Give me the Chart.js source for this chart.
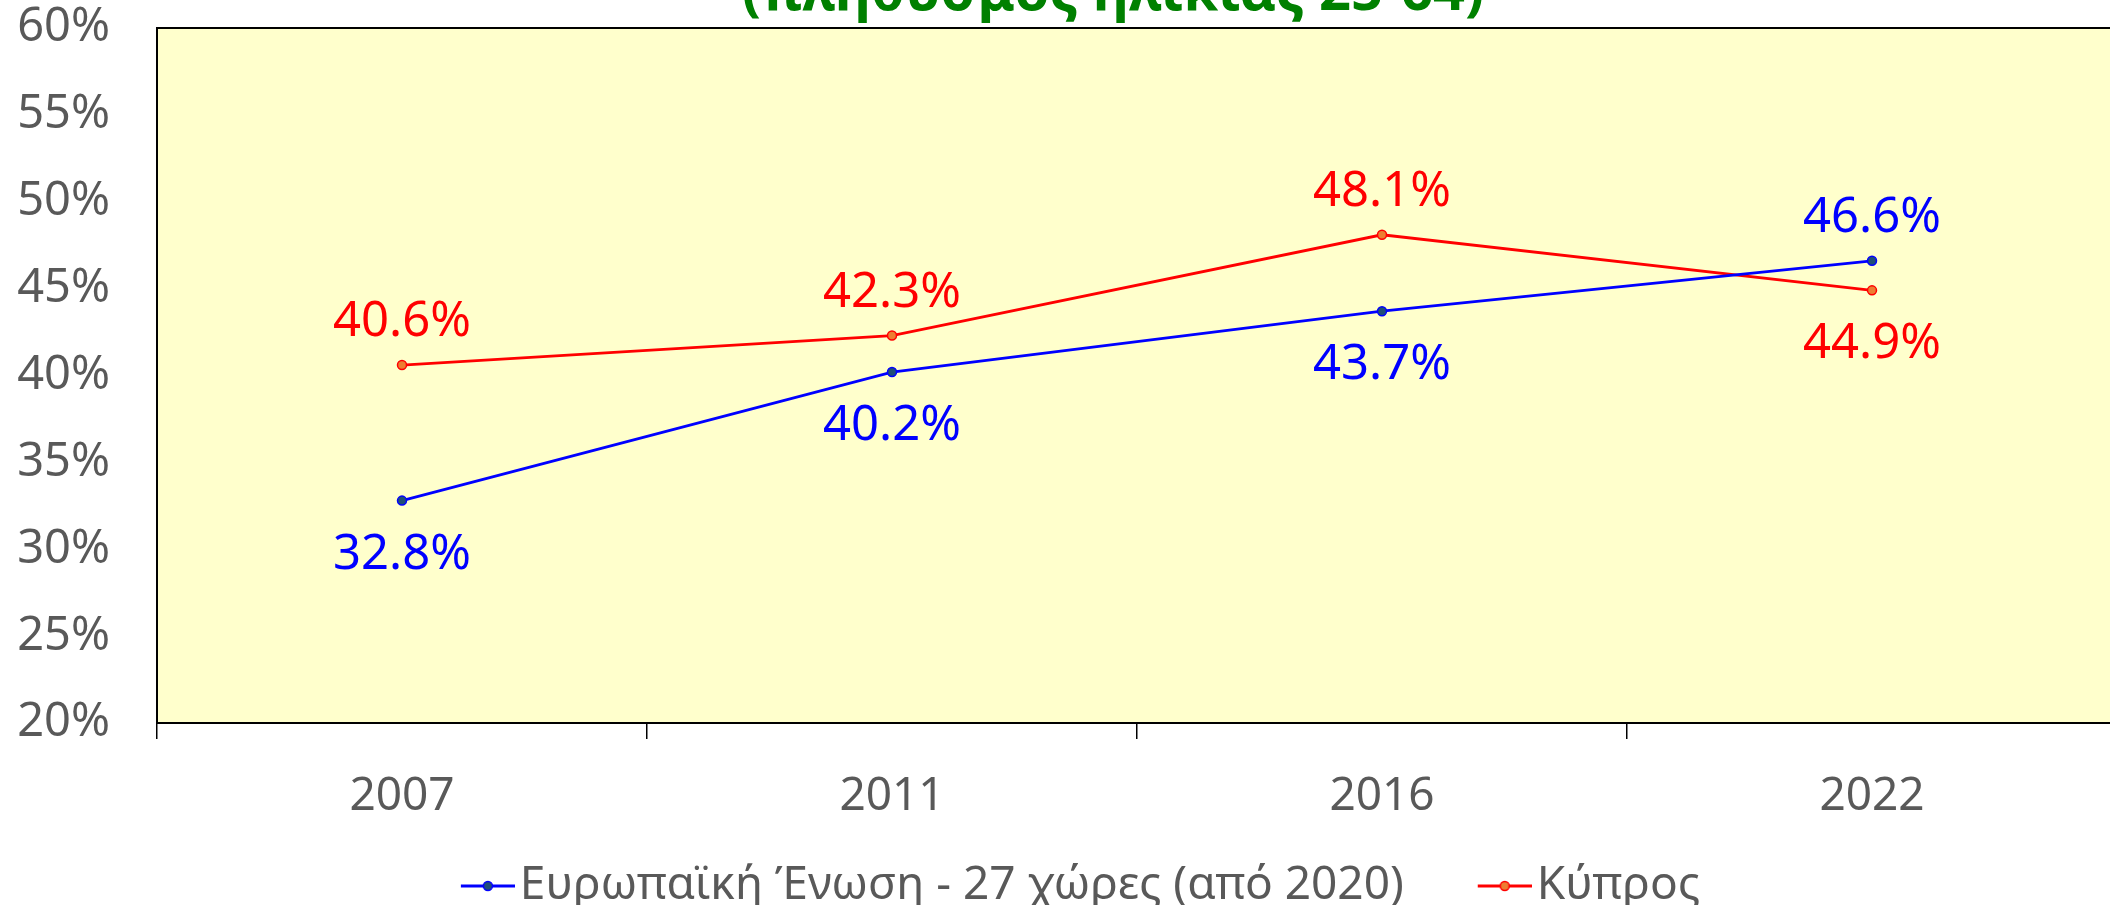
<!DOCTYPE html>
<html lang="el">
<head>
<meta charset="UTF-8">
<title>Συμμετοχή ενηλίκων στην εκπαίδευση</title>
<script src="https://cdn.jsdelivr.net/npm/chart.js@4.4.1/dist/chart.umd.min.js"></script>
<style>
  html, body { margin: 0; padding: 0; background: #fff; overflow: hidden; }
  .chart-wrap { position: absolute; left: 0; top: 0; width: 2140px; height: 919px; }
</style>
</head>
<body>
<div class="chart-wrap"><canvas id="trendChart"></canvas></div>
<script>
  // data
  const years = ["2007", "2011", "2016", "2022"];
  const euValues = [32.8, 40.2, 43.7, 46.6];
  const cyValues = [40.6, 42.3, 48.1, 44.9];
  const seriesNames = ["Ευρωπαϊκή Ένωση - 27 χώρες (από 2020)", "Κύπρος"];
  const yMin = 20, yMax = 60, yStep = 5;
  const titleText = "(πληθυσμός ηλικίας 25-64)";
  // which side of the point each value label goes
  const euLabelSide = ["below", "below", "below", "above"];
  const cyLabelSide = ["above", "above", "above", "below"];

  const FONT = "'Noto Sans', sans-serif";
  const GREY = "#595959";
  const BOX_W = 80; // legend box; icon sits at its right end

  function legendIcon(line, fill) {
    const c = document.createElement("canvas");
    c.width = BOX_W + 36; c.height = 14;
    const g = c.getContext("2d");
    const x0 = c.width - 54;
    g.strokeStyle = line;
    g.lineWidth = 3;
    g.beginPath(); g.moveTo(x0, 7); g.lineTo(c.width, 7); g.stroke();
    g.beginPath(); g.arc(x0 + 27, 7, 4.5, 0, Math.PI * 2);
    g.fillStyle = fill; g.fill();
    g.lineWidth = 1.5; g.stroke();
    return c;
  }
  const icons = [legendIcon("#0000FF", "#1F4E79"), legendIcon("#FF0000", "#ED7D31")];

  // yellow plot area + black frame
  const plotFrame = {
    id: "plotFrame",
    beforeDraw(chart) {
      const { ctx, chartArea: a } = chart;
      ctx.save();
      ctx.fillStyle = "#FFFFCC";
      ctx.fillRect(a.left, a.top, a.right - a.left, a.bottom - a.top);
      ctx.restore();
    },
    beforeDatasetsDraw(chart) {
      const { ctx, chartArea: a } = chart;
      ctx.save();
      ctx.strokeStyle = "#000";
      ctx.lineWidth = 2;
      ctx.strokeRect(a.left, a.top, a.right - a.left, a.bottom - a.top);
      ctx.restore();
    }
  };

  // title sits half off the top edge, like in the original export
  const cutTitle = {
    id: "cutTitle",
    afterDraw(chart) {
      const ctx = chart.ctx;
      ctx.save();
      ctx.font = "bold 56px " + FONT;
      ctx.fillStyle = "#008000";
      ctx.textAlign = "center";
      ctx.textBaseline = "alphabetic";
      ctx.fillText(titleText, 1113, 10);
      ctx.restore();
    }
  };

  const valueLabels = {
    id: "valueLabels",
    afterDatasetsDraw(chart) {
      const ctx = chart.ctx;
      ctx.save();
      ctx.font = "49px " + FONT;
      ctx.textAlign = "center";
      ctx.textBaseline = "alphabetic";
      chart.data.datasets.forEach((ds, i) => {
        chart.getDatasetMeta(i).data.forEach((pt, j) => {
          const cy = ds.labelSide[j] === "above" ? pt.y - 46 : pt.y + 51;
          ctx.fillStyle = ds.borderColor;
          ctx.fillText(ds.data[j].toFixed(1) + "%", pt.x, cy + 17);
        });
      });
      ctx.restore();
    }
  };

  new Chart(document.getElementById("trendChart"), {
    type: "line",
    data: {
      labels: years,
      datasets: [
        {
          label: seriesNames[0],
          data: euValues,
          labelSide: euLabelSide,
          borderColor: "#0000FF",
          backgroundColor: "#1F4E79",
          pointBackgroundColor: "#1F4E79",
          pointBorderColor: "#0000FF",
          borderWidth: 2.8,
          pointRadius: 4.5,
          pointBorderWidth: 1.5,
          tension: 0
        },
        {
          label: seriesNames[1],
          data: cyValues,
          labelSide: cyLabelSide,
          borderColor: "#FF0000",
          backgroundColor: "#ED7D31",
          pointBackgroundColor: "#ED7D31",
          pointBorderColor: "#FF0000",
          borderWidth: 2.8,
          pointRadius: 4.5,
          pointBorderWidth: 1.5,
          tension: 0
        }
      ]
    },
    options: {
      responsive: true,
      maintainAspectRatio: false,
      animation: false,
      layout: { padding: { top: 28, right: 23, bottom: 0, left: 0 } },
      scales: {
        y: {
          min: yMin,
          max: yMax,
          ticks: {
            stepSize: yStep,
            color: GREY,
            font: { family: FONT, size: 47 },
            padding: 39,
            callback: v => v + "%"
          },
          grid: { display: false },
          border: { display: false },
          afterFit: s => { s.width = 157; s.paddingTop = 0; s.paddingBottom = 0; }
        },
        x: {
          offset: true,
          ticks: {
            color: GREY,
            font: { family: FONT, size: 46 },
            padding: 30
          },
          grid: {
            offset: true,
            drawOnChartArea: false,
            drawTicks: true,
            tickLength: 16,
            color: "#000",
            lineWidth: 1.5
          },
          border: { display: false },
          afterFit: s => { s.height = 110; s.paddingLeft = 0; s.paddingRight = 0; }
        }
      },
      plugins: {
        legend: {
          position: "bottom",
          labels: {
            usePointStyle: true,
            pointStyleWidth: BOX_W,
            color: GREY,
            font: { family: FONT, size: 46 },
            padding: 30,
            generateLabels: chart =>
              Chart.defaults.plugins.legend.labels.generateLabels(chart)
                .map((item, i) => ({ ...item, pointStyle: icons[i] }))
          }
        },
        tooltip: { enabled: false }
      }
    },
    plugins: [plotFrame, cutTitle, valueLabels]
  });
</script>
</body>
</html>
